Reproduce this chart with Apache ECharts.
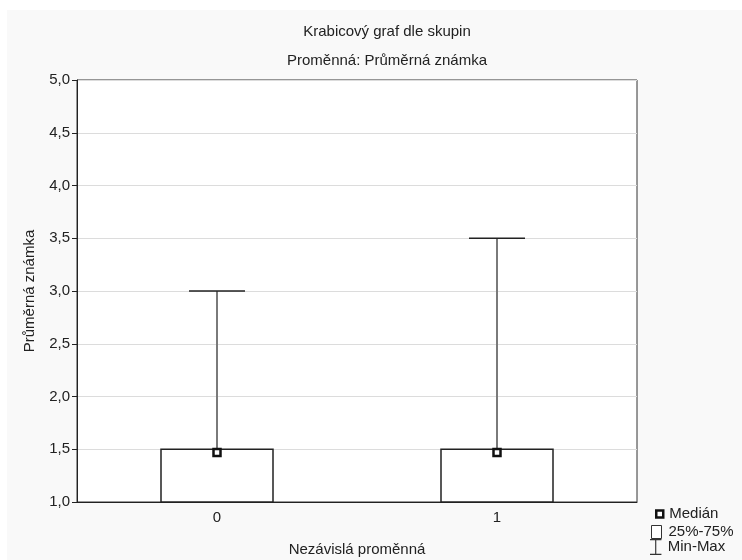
<!DOCTYPE html>
<html>
<head>
<meta charset="utf-8">
<script src="https://cdn.jsdelivr.net/npm/echarts@6/dist/echarts.min.js"></script>
<style>
  html, body { margin: 0; padding: 0; background: #fff; }
  #chart { width: 742px; height: 560px; }
</style>
</head>
<body>
<div id="chart"></div>
<script>
// skupiny a hodnoty
var categories = ['0', '1'];
var minVals = [1.0, 1.0];
var q1Vals = [1.0, 1.0];
var medianVals = [1.47, 1.47];
var q3Vals = [1.5, 1.5];
var maxVals = [3.0, 3.5];

var font = '"Liberation Sans", Arial, sans-serif';
var fs = 15;

// data pro custom series: [index, min, q1, median, q3, max]
var boxData = categories.map(function(c, i){
	return [i, minVals[i], q1Vals[i], medianVals[i], q3Vals[i], maxVals[i]];
});

// vousy (min-max)
function renderWhisker(params, api) {
	var x = api.value(0),
		top = api.coord([x, api.value(5)]),
		q3 = api.coord([x, api.value(4)]),
		q1 = api.coord([x, api.value(2)]),
		bottom = api.coord([x, api.value(1)]),
		band = api.size([1, 0])[0],
		half = band * 0.1;
	return {
		type: 'group',
		children: [
			{ type: 'line', shape: { x1: top[0], y1: top[1], x2: q3[0], y2: q3[1] },
				style: { stroke: '#7a7a7a', lineWidth: 2 } },
			{ type: 'line', shape: { x1: top[0] - half, y1: top[1], x2: top[0] + half, y2: top[1] },
				style: { stroke: '#222', lineWidth: 1.5 } },
			{ type: 'line', shape: { x1: bottom[0], y1: bottom[1], x2: q1[0], y2: q1[1] },
				style: { stroke: '#7a7a7a', lineWidth: 2 } },
			{ type: 'line', shape: { x1: bottom[0] - half, y1: bottom[1], x2: bottom[0] + half, y2: bottom[1] },
				style: { stroke: '#222', lineWidth: 1.5 } }
		]
	};
}

// krabice (25%-75%)
function renderBox(params, api) {
	var x = api.value(0),
		q3 = api.coord([x, api.value(4)]),
		q1 = api.coord([x, api.value(2)]),
		band = api.size([1, 0])[0],
		w = band * 0.4;
	return {
		type: 'rect',
		shape: { x: q3[0] - w / 2, y: q3[1], width: w, height: q1[1] - q3[1] },
		style: { fill: '#fff', stroke: '#222', lineWidth: 1.5 }
	};
}

// jedna legenda na položku (kvůli různé velikosti ikon)
function legendItem(name, left, top, w, h, icon, itemStyle, padLeft) {
	return {
		orient: 'vertical',
		left: left,
		top: top,
		padding: 0,
		itemWidth: w,
		itemHeight: h,
		selectedMode: false,
		textStyle: { fontSize: fs, color: '#222', fontFamily: font, lineHeight: 16, padding: [0, 0, 0, padLeft] },
		data: [{ name: name, icon: icon, itemStyle: itemStyle }]
	};
}

var chart = echarts.init(document.getElementById('chart'));

var option = {
	animation: false,
	backgroundColor: '#fff',
	textStyle: { fontFamily: font },
	graphic: [{
		type: 'rect',
		z: -10,
		silent: true,
		shape: { x: 7, y: 10, width: 735, height: 550 },
		style: { fill: '#f9f9f9' }
	}],
	title: [{
		text: 'Krabicový graf dle skupin',
		left: 382, top: 19, textAlign: 'center',
		textStyle: { fontSize: fs, fontWeight: 'normal', color: '#222', fontFamily: font }
	}, {
		text: 'Proměnná: Průměrná známka',
		left: 382, top: 48, textAlign: 'center',
		textStyle: { fontSize: fs, fontWeight: 'normal', color: '#222', fontFamily: font }
	}],
	legend: [
		legendItem('Medián', 655, 506, 7, 7, 'rect',
			{ color: '#fff', borderColor: '#111', borderWidth: 2.5 }, 1),
		legendItem('25%-75%', 651, 524, 10, 13, 'rect',
			{ color: '#fff', borderColor: '#333', borderWidth: 1 }, 2),
		legendItem('Min-Max', 650, 539, 12, 16,
			'path://M0,0 L10,0 L10,1 L5.5,1 L5.5,13 L10,13 L10,14 L0,14 L0,13 L4.5,13 L4.5,1 L0,1 Z',
			{ color: '#333', borderWidth: 0 }, 1)
	],
	grid: {
		left: 77, right: 105, top: 80, bottom: 58,
		outerBoundsMode: 'none',
		containLabel: false,
		show: true,
		backgroundColor: '#fff',
		borderColor: '#333',
		borderWidth: 1
	},
	xAxis: {
		type: 'category',
		data: categories,
		name: 'Nezávislá proměnná',
		nameLocation: 'middle',
		nameGap: 40,
		nameTextStyle: { fontSize: fs, color: '#222', fontFamily: font },
		axisLine: { lineStyle: { color: '#222', width: 1 } },
		axisTick: { show: true, inside: true, alignWithLabel: true, length: 4, lineStyle: { color: '#222' } },
		axisLabel: { fontSize: fs, color: '#222', margin: 8, fontFamily: font },
		splitLine: { show: false }
	},
	yAxis: {
		type: 'value',
		min: 1,
		max: 5,
		interval: 0.5,
		name: 'Průměrná známka',
		nameLocation: 'middle',
		nameGap: 40,
		nameTextStyle: { fontSize: fs, color: '#222', fontFamily: font },
		axisLine: { show: true, lineStyle: { color: '#222', width: 1 } },
		axisTick: { show: true, length: 5, lineStyle: { color: '#222' } },
		axisLabel: {
			fontSize: fs, color: '#222', margin: 7, fontFamily: font,
			formatter: function(v){ return v.toFixed(1).replace('.', ','); }
		},
		splitLine: { show: true, lineStyle: { color: '#dcdcdc', width: 1 } }
	},
	series: [{
		name: 'Min-Max',
		type: 'custom',
		renderItem: renderWhisker,
		data: boxData,
		z: 2
	}, {
		name: '25%-75%',
		type: 'custom',
		renderItem: renderBox,
		data: boxData,
		z: 3
	}, {
		name: 'Medián',
		type: 'scatter',
		symbol: 'rect',
		symbolSize: 7,
		itemStyle: { color: '#fff', borderColor: '#111', borderWidth: 2.5, opacity: 1 },
		data: categories.map(function(c, i){ return [i, medianVals[i]]; }),
		z: 4
	}]
};

chart.setOption(option);
</script>
</body>
</html>
